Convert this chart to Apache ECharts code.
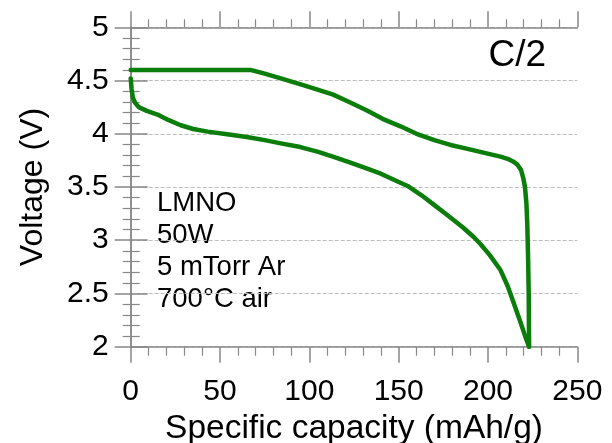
<!DOCTYPE html>
<html>
<head>
<meta charset="utf-8">
<script src="https://cdn.jsdelivr.net/npm/echarts@6/dist/echarts.min.js"></script>
<style>
html,body{margin:0;padding:0;background:#fff;}
#chart{width:612px;height:443px;}
</style>
</head>
<body>
<div id="chart"></div>
<script>
// Upper curve (flat at 4.6 V then falling, vertical drop at end)
const chargeCap = [0, 67, 75, 84, 97, 113, 122, 132, 141, 151, 160, 170, 179, 188, 198, 207, 211, 214, 216.5, 218.5, 219.8, 220.7, 221.5, 222, 222.5, 222.8, 223];
const chargeV   = [4.6, 4.6, 4.565, 4.52, 4.455, 4.37, 4.30, 4.22, 4.14, 4.07, 4.00, 3.94, 3.895, 3.86, 3.82, 3.785, 3.765, 3.74, 3.71, 3.66, 3.58, 3.5, 3.35, 3.15, 2.8, 2.5, 2.0];
// Lower curve
const dischargeCap = [0, 0.5, 1.2, 2.5, 4.5, 9, 15, 21, 28, 35, 43, 54, 65, 75, 84, 95, 105, 114, 123, 132, 140, 147, 155, 163, 170, 177, 186, 192, 196, 201, 207, 211, 214, 218, 221, 223];
const dischargeV   = [4.52, 4.42, 4.34, 4.29, 4.25, 4.215, 4.18, 4.13, 4.08, 4.045, 4.02, 3.995, 3.97, 3.94, 3.91, 3.875, 3.83, 3.78, 3.73, 3.675, 3.625, 3.57, 3.51, 3.42, 3.33, 3.24, 3.12, 3.03, 2.96, 2.86, 2.72, 2.57, 2.43, 2.24, 2.09, 2.0];

const xTicks = [0, 50, 100, 150, 200, 250];
const yTicks = [2, 2.5, 3, 3.5, 4, 4.5, 5];
const annotationLines = ['LMNO', '50W', '5 mTorr Ar', '700°C air'];
const rateLabel = 'C/2';
const xTitle = 'Specific capacity (mAh/g)';
const yTitle = 'Voltage (V)';

const FONT = '"Liberation Sans", Arial, sans-serif';
const AXIS_COLOR = '#888';
const GREEN = '#0b7d0b';

const pairs = (xs, ys) => xs.map((x, i) => [x, ys[i]]);

const chart = echarts.init(document.getElementById('chart'), null, {renderer: 'canvas'});

const baseAxisLine = {show: true, lineStyle: {color: AXIS_COLOR, width: 1.5}};
const xMin = xTicks[0], xMax = xTicks[xTicks.length - 1], xInt = xTicks[1] - xTicks[0];
const yMin = yTicks[0], yMax = yTicks[yTicks.length - 1], yInt = yTicks[1] - yTicks[0];

chart.setOption({
  animation: false,
  grid: {left: 130.7, right: 34.7, top: 27.3, bottom: 96.3, containLabel: false, outerBoundsMode: 'none'},
  xAxis: [
    {
      type: 'value', position: 'bottom', min: xMin, max: xMax, interval: xInt,
      axisLine: baseAxisLine,
      axisTick: {show: true, inside: false, length: 16, lineStyle: {color: AXIS_COLOR, width: 1.5}},
      minorTick: {show: true, splitNumber: 5, length: 9, lineStyle: {color: AXIS_COLOR, width: 1.2}},
      axisLabel: {show: true, margin: 30, fontSize: 30, color: '#000', fontFamily: FONT},
      splitLine: {show: false},
      name: xTitle, nameLocation: 'middle', nameGap: 63,
      nameTextStyle: {fontSize: 33.5, color: '#000', fontFamily: FONT}
    },
    {
      type: 'value', position: 'top', min: xMin, max: xMax, interval: xInt,
      axisLine: baseAxisLine,
      axisTick: {show: true, inside: false, length: 16, lineStyle: {color: AXIS_COLOR, width: 1.5}},
      minorTick: {show: true, splitNumber: 5, length: 8, lineStyle: {color: AXIS_COLOR, width: 1.2}},
      axisLabel: {show: false},
      splitLine: {show: false}
    }
  ],
  yAxis: [
    {
      type: 'value', position: 'left', min: yMin, max: yMax, interval: yInt,
      axisLine: baseAxisLine,
      axisTick: {show: true, inside: false, length: 16, lineStyle: {color: AXIS_COLOR, width: 1.5}},
      minorTick: {show: true, splitNumber: 5, length: 8, lineStyle: {color: AXIS_COLOR, width: 1.2}},
      axisLabel: {show: true, margin: 22, fontSize: 30, color: '#000', fontFamily: FONT},
      splitLine: {show: true, lineStyle: {color: '#bdbdbd', width: 1, type: [4, 2]}},
      name: yTitle, nameLocation: 'middle', nameGap: 82,
      nameTextStyle: {fontSize: 32, color: '#000', fontFamily: FONT}
    },
    {
      type: 'value', position: 'right', min: yMin, max: yMax, interval: yInt,
      axisLine: baseAxisLine,
      axisTick: {show: true, inside: false, length: 17, lineStyle: {color: AXIS_COLOR, width: 1.5}},
      minorTick: {show: true, splitNumber: 5, length: 9, lineStyle: {color: AXIS_COLOR, width: 1.2}},
      axisLabel: {show: false},
      splitLine: {show: false}
    }
  ],
  series: [
    {
      type: 'line', xAxisIndex: 0, yAxisIndex: 0,
      data: pairs(chargeCap, chargeV),
      showSymbol: false, smooth: false,
      lineStyle: {color: GREEN, width: 4.5, join: 'round', cap: 'round'}
    },
    {
      type: 'line', xAxisIndex: 0, yAxisIndex: 0,
      data: pairs(dischargeCap, dischargeV),
      showSymbol: false, smooth: false,
      lineStyle: {color: GREEN, width: 4.5, join: 'round', cap: 'round'}
    }
  ],
  graphic: [
    {
      type: 'text', left: 157, top: 187,
      style: {text: annotationLines.join('\n'), font: '27.5px ' + FONT, fill: '#000', lineHeight: 32}
    },
    {
      type: 'text', right: 612 - 546, top: 37,
      style: {text: rateLabel, font: '37px ' + FONT, fill: '#000'}
    }
  ]
});
</script>
</body>
</html>
